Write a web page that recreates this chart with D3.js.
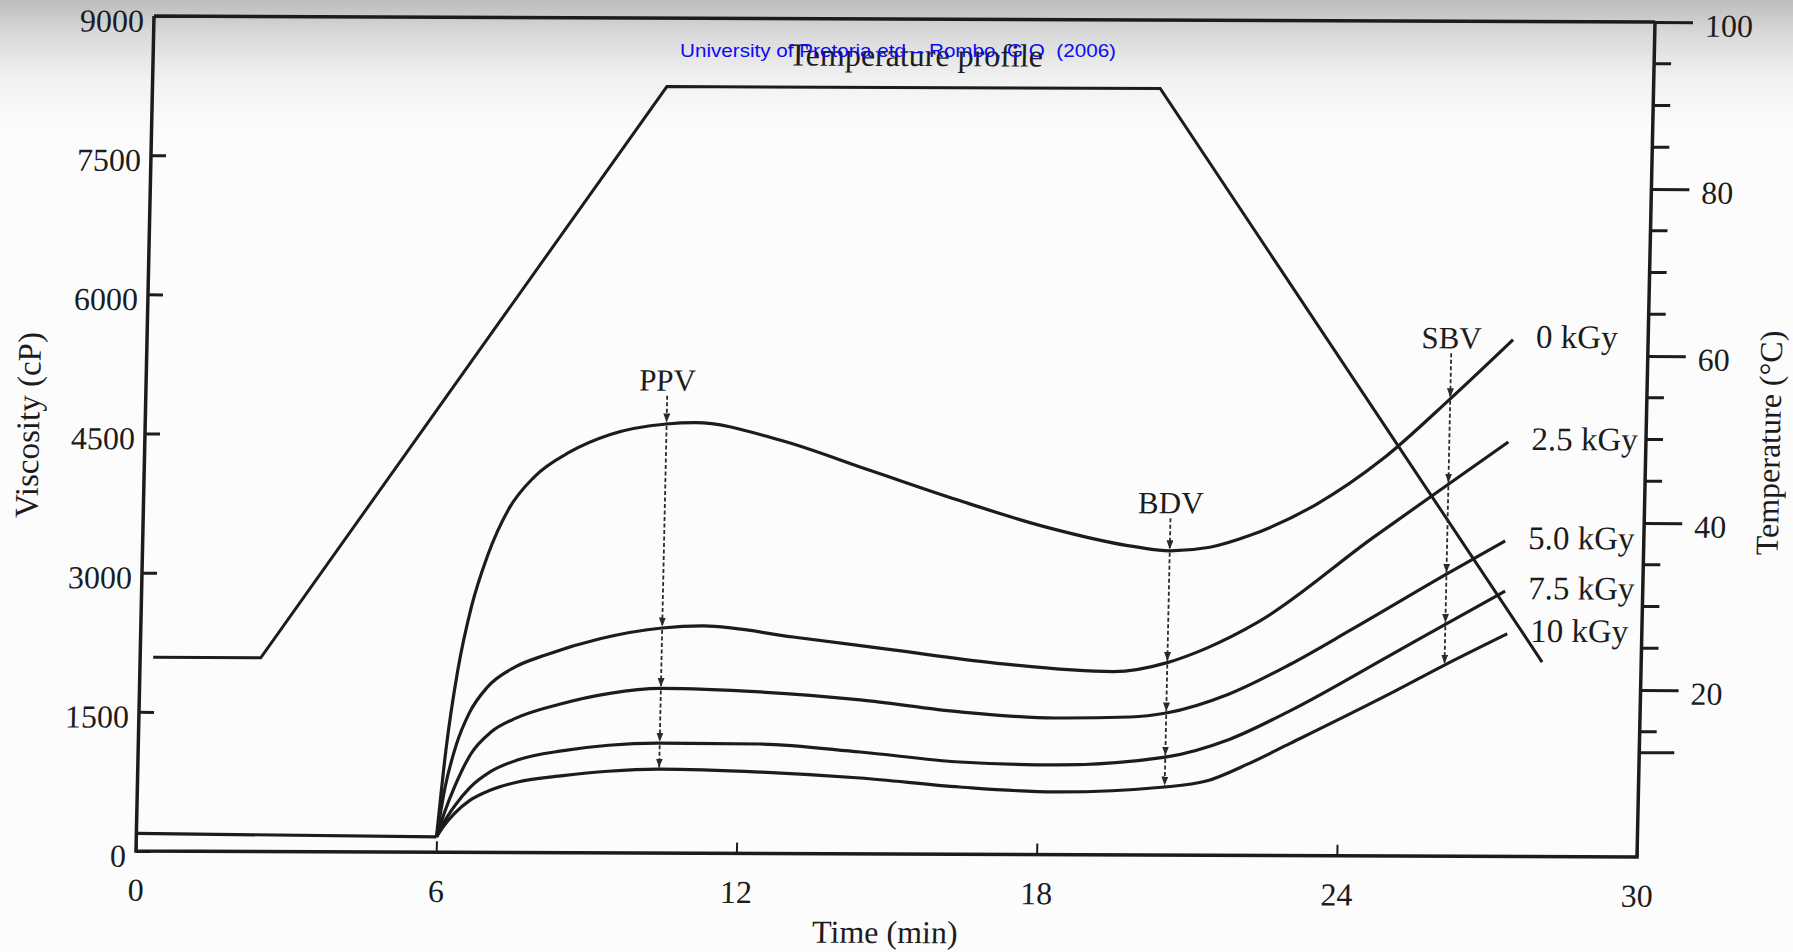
<!DOCTYPE html>
<html>
<head>
<meta charset="utf-8">
<script src="https://cdn.jsdelivr.net/npm/d3@7"></script>
<style>
  html, body { margin: 0; padding: 0; background: #fcfcfc; }
  svg { display: block; }
</style>
</head>
<body>
<div id="chart"></div>
<script>
// Page and plot frame size (the scan is slightly sheared, see transform below).
var width = 1793;
var height = 952;
var plotW = 1501;
var plotH = 835;

// ---- Data ----
var doses = ["0 kGy", "2.5 kGy", "5.0 kGy", "7.5 kGy", "10 kGy"];

var viscTicks = [0, 1500, 3000, 4500, 6000, 7500, 9000];
var timeTicks = [0, 6, 12, 18, 24, 30];
var tempTicks = [20, 40, 60, 80, 100];
var tempMinorTicks = [15, 25, 30, 35, 45, 50, 55, 65, 70, 75, 85, 90, 95];
var tempExtraTicks = [12.5];

// Temperature profile (right axis, deg C)
var tempTime = [0.26, 2.41, 10.28, 20.14, 28.02];
var tempValue = [23.2, 23.2, 91.8, 91.8, 23.3];

// Common flat start of the viscosity curves (cP)
var baseTime = [0, 6];
var baseVisc = [190, 165];

// Viscosity curves, [time (min), viscosity (cP)]
var visc0 = [[6,165],[6.15,1100],[6.35,1950],[6.6,2650],[6.9,3200],[7.3,3700],[7.8,4050],
  [8.5,4320],[9.3,4510],[10.42,4625],[11.0,4640],[12.67,4460],[14.47,4140],[16.26,3820],
  [18.05,3530],[19.86,3320],[20.53,3280],[21.33,3320],[22.13,3450],[23.45,3790],
  [24.75,4280],[26.07,4930],[27.30,5570]];
var visc25 = [[6,165],[6.15,700],[6.35,1150],[6.6,1500],[6.95,1780],[7.5,2000],[8.1,2130],
  [9.2,2310],[10.42,2426],[11.24,2450],[13.04,2335],[15.04,2200],[17.05,2065],[19.45,1975],
  [20.53,2075],[21.30,2230],[22.34,2520],[24.56,3420],[26.07,4010],[27.25,4467]];
var visc50 = [[6,165],[6.15,430],[6.35,720],[6.65,1060],[7.05,1300],[7.5,1440],[8.4,1600],
  [9.4,1720],[10.42,1775],[12.40,1741],[14.41,1659],[16.41,1534],[18.31,1473],[19.81,1487],
  [20.53,1532],[21.78,1740],[22.98,2060],[24.20,2440],[26.07,3040],[27.23,3400]];
var visc75 = [[6,165],[6.15,330],[6.35,500],[6.65,700],[7.05,870],[7.6,1000],[8.5,1100],
  [9.4,1160],[10.42,1185],[12.42,1180],[14.43,1098],[16.43,995],[18.33,967],[20.53,1057],
  [21.80,1250],[23.0,1560],[24.97,2160],[26.07,2500],[27.25,2860]];
var visc10 = [[6,165],[6.15,290],[6.35,420],[6.65,560],[7.05,670],[7.6,760],[8.5,830],
  [9.4,880],[10.42,906],[12.44,878],[14.44,818],[16.44,725],[18.34,676],[20.53,734],
  [21.36,800],[22.2,990],[23.02,1210],[25.10,1780],[26.07,2060],[27.31,2400]];
var curves = [visc0, visc25, visc50, visc75, visc10];

// Peak (PPV), breakdown (BDV) and setback (SBV) markers
var markerNames = ["PPV", "BDV", "SBV"];
var markerTimes = [10.42, 20.53, 26.07];
var markerStart = [4930, 3630, 5420];
var ppvValues = [4625, 2426, 1775, 1185, 906];
var bdvValues = [3280, 2075, 1532, 1057, 734];
var sbvValues = [4930, 4010, 3040, 2500, 2060];
var markerValues = [ppvValues, bdvValues, sbvValues];

var ink = "#1c1c1c";
var serif = "'Liberation Serif', 'Times New Roman', serif";

var svg = d3.select("#chart").append("svg")
    .attr("width", width)
    .attr("height", height);

// Grey shading of the scanned page at the top.
var defs = svg.append("defs");
var grad = defs.append("linearGradient")
    .attr("id", "scanShade")
    .attr("x1", 0).attr("y1", 0).attr("x2", 0).attr("y2", 1);
grad.append("stop").attr("offset", "0").attr("stop-color", "#bcbcbc");
grad.append("stop").attr("offset", "0.25").attr("stop-color", "#d8d8d8");
grad.append("stop").attr("offset", "0.6").attr("stop-color", "#f1f1f1");
grad.append("stop").attr("offset", "1").attr("stop-color", "#fcfcfc");

svg.append("rect").attr("width", width).attr("height", height).attr("fill", "#fcfcfc");
svg.append("rect").attr("width", width).attr("height", 130).attr("fill", "url(#scanShade)");

// Small arrowhead for the dashed marker lines.
defs.append("marker")
    .attr("id", "arrow")
    .attr("viewBox", "0 0 9 7")
    .attr("refX", 9).attr("refY", 3.5)
    .attr("markerWidth", 9).attr("markerHeight", 7)
    .attr("markerUnits", "userSpaceOnUse")
    .attr("orient", "auto")
  .append("path")
    .attr("d", "M0,0 L9,3.5 L0,7 Z")
    .attr("fill", "#2a2a2a");

// The scan is slightly sheared; the whole chart sits in one skewed group.
var g = svg.append("g")
    .attr("transform", "matrix(1,0.004,-0.02156,1,154,16)");

var x = d3.scaleLinear().domain([0, 30]).range([0, plotW]);
var yV = d3.scaleLinear().domain([0, 9000]).range([plotH, 0]);
var yT = d3.scaleLinear().domain([0, 100]).range([plotH, 0]);

// ---- Axes ----
var left = g.append("g")
    .call(d3.axisLeft(yV).tickValues(viscTicks).tickFormat(d3.format("d"))
      .tickSize(-15).tickPadding(10));
var bottom = g.append("g")
    .attr("transform", "translate(0," + plotH + ")")
    .call(d3.axisBottom(x).tickValues(timeTicks).tickFormat(d3.format("d"))
      .tickSize(-11).tickPadding(27));
var right = g.append("g")
    .attr("transform", "translate(" + plotW + ",0)")
    .call(d3.axisRight(yT).tickValues(tempTicks).tickFormat(d3.format("d"))
      .tickSize(38).tickPadding(12));

[left, bottom, right].forEach(function(ax) {
  ax.attr("font-family", null).attr("font-size", null);
  ax.select(".domain").remove();
  ax.selectAll(".tick line").attr("stroke", ink).attr("stroke-width", 3);
  ax.selectAll(".tick text")
      .style("font-family", serif)
      .style("font-size", "32px")
      .attr("fill", ink);
});
left.selectAll(".tick text").attr("dy", "0.48em");
right.selectAll(".tick text").attr("dy", "0.44em");
bottom.selectAll(".tick line").attr("stroke-width", 2);

// minor temperature ticks
right.selectAll(".minor")
    .data(tempMinorTicks)
    .enter().append("line")
    .attr("x1", 0).attr("x2", 17)
    .attr("y1", function(d) { return yT(d); })
    .attr("y2", function(d) { return yT(d); })
    .attr("stroke", ink).attr("stroke-width", 3);
right.selectAll(".extra")
    .data(tempExtraTicks)
    .enter().append("line")
    .attr("x1", 0).attr("x2", 35)
    .attr("y1", function(d) { return yT(d); })
    .attr("y2", function(d) { return yT(d); })
    .attr("stroke", ink).attr("stroke-width", 3);

// frame
var frame = d3.path();
frame.moveTo(0, 0); frame.lineTo(0, plotH); frame.lineTo(plotW, plotH); frame.lineTo(plotW, 0);
frame.moveTo(0, 0); frame.lineTo(plotW, 0);
g.append("path")
    .attr("d", frame.toString())
    .attr("fill", "none")
    .attr("stroke", ink)
    .attr("stroke-width", 3.5);

// axis titles
g.append("text")
    .attr("transform", "translate(-106," + (plotH / 2 - 8) + ") rotate(-90)")
    .attr("text-anchor", "middle")
    .style("font-family", serif).style("font-size", "33px")
    .attr("fill", ink)
    .text("Viscosity (cP)");
g.append("text")
    .attr("transform", "translate(" + (plotW + 134) + "," + (plotH / 2 + 3) + ") rotate(-90)")
    .attr("text-anchor", "middle")
    .style("font-family", serif).style("font-size", "32px")
    .attr("fill", ink)
    .text("Temperature (\u00B0C)");
g.append("text")
    .attr("x", plotW / 2)
    .attr("y", plotH + 89)
    .attr("text-anchor", "middle")
    .style("font-family", serif).style("font-size", "32px")
    .attr("fill", ink)
    .text("Time (min)");
g.append("text")
    .attr("x", plotW * 0.508)
    .attr("y", 47)
    .attr("text-anchor", "middle")
    .style("font-family", serif).style("font-size", "32px")
    .attr("fill", ink)
    .text("Temperature profile");

// ---- Temperature profile ----
var tempLine = d3.line()
    .x(function(d, i) { return x(tempTime[i]); })
    .y(function(d) { return yT(d); });
g.append("path")
    .attr("d", tempLine(tempValue))
    .attr("fill", "none")
    .attr("stroke", ink)
    .attr("stroke-width", 3)
    .attr("stroke-linejoin", "miter");

// ---- Viscosity curves ----
var baseLine = d3.line()
    .x(function(d, i) { return x(baseTime[i]); })
    .y(function(d) { return yV(d); });
g.append("path")
    .attr("d", baseLine(baseVisc))
    .attr("fill", "none")
    .attr("stroke", ink)
    .attr("stroke-width", 3.2);

var viscLine = d3.line()
    .curve(d3.curveMonotoneX)
    .x(function(d) { return x(d[0]); })
    .y(function(d) { return yV(d[1]); });

g.selectAll(".visc")
    .data(curves)
    .enter().append("path")
    .attr("class", "visc")
    .attr("d", viscLine)
    .attr("fill", "none")
    .attr("stroke", ink)
    .attr("stroke-width", 3.2);

// dose labels next to curve ends
g.selectAll(".dose")
    .data(curves)
    .enter().append("text")
    .attr("x", function(d) { return x(d[d.length - 1][0]) + 23; })
    .attr("y", function(d) { return yV(d[d.length - 1][1]) + 8; })
    .style("font-family", serif).style("font-size", "33px")
    .attr("fill", ink)
    .text(function(d, i) { return doses[i]; });

// ---- PPV / BDV / SBV dashed arrows ----
markerNames.forEach(function(name, i) {
  var t = markerTimes[i];
  var vals = [markerStart[i]].concat(markerValues[i]);
  for (var k = 0; k < vals.length - 1; k++) {
    g.append("line")
        .attr("x1", x(t)).attr("x2", x(t))
        .attr("y1", yV(vals[k]) + (k ? 2 : 0))
        .attr("y2", yV(vals[k + 1]) - 1.5)
        .attr("stroke", "#2a2a2a")
        .attr("stroke-width", 1.8)
        .attr("stroke-dasharray", "4,2.5")
        .attr("marker-end", "url(#arrow)");
  }
  g.append("text")
      .attr("x", x(t))
      .attr("y", yV(markerStart[i]) - 5)
      .attr("text-anchor", "middle")
      .style("font-family", serif).style("font-size", "31px")
      .attr("fill", ink)
      .text(name);
});

// Repository watermark stamped over the page (not sheared).
svg.append("text")
    .attr("x", 898)
    .attr("y", 57)
    .attr("text-anchor", "middle")
    .attr("textLength", 436)
    .attr("lengthAdjust", "spacingAndGlyphs")
    .style("white-space", "pre")
    .style("font-family", "'Liberation Sans', Arial, sans-serif")
    .style("font-size", "19px")
    .attr("fill", "#0a0af5")
    .text("University of Pretoria etd \u2013 Rombo, G O  (2006)");
</script>
</body>
</html>
